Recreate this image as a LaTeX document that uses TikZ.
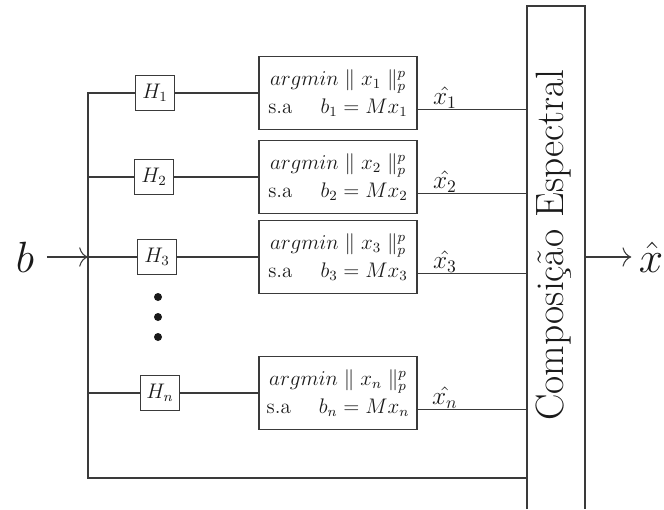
\documentclass[tikz,border=0pt]{standalone}
\usepackage{amsmath, amssymb}
\usepackage{fontspec}
\usepackage{xcolor}
\usetikzlibrary{arrows.meta}
\definecolor{wire}{HTML}{3A3A3A}
\definecolor{ink}{HTML}{1A1A1A}

\begin{document}
\begin{tikzpicture}[every node/.style={font=\large, text=ink},
  hbox/.style={draw=wire, minimum width=0.78cm, minimum height=0.7cm, inner sep=0pt},
  solver/.style={draw=wire, minimum width=3.16cm, minimum height=1.45cm,
    align=center, inner sep=0pt},
  arr/.style={-{To[length=5pt,width=11pt]}},
  draw=wire, line width=0.6pt]
  \useasboundingbox (0,0) rectangle (13.28,10.18);

  % input and bus
  \coordinate (busbot) at (1.76,0.62);
  \node[font=\fontsize{24}{29}\selectfont, inner sep=7pt] (b) at (0.5,5.04) {$b$};
  \draw[arr] (b.east) -- (b.east -| busbot);

  % spectral composition block
  \node[minimum width=1.16cm, minimum height=10.06cm, inner sep=0pt,
    outer sep=0pt] (comp) at (11.12,5.03) {};
  \draw (comp.south west) |- (comp.north east) -- (comp.south east);
  \node[rotate=90, font=\fontsize{22.5}{27}\selectfont] (comptxt) at (11.08,5.28)
    {Composição Espectral};
  \node[font=\fontsize{24}{29}\selectfont, inner sep=4pt] (xhat) at (13.02,5.04) {$\hat{x}$};
  \draw[arr] (xhat.west -| comp.east) -- (xhat.west);

  % filters
  \node[hbox] (h1) at (3.1,8.32) {$H_1$};
  \node[hbox] (h2) at (3.08,6.64) {$H_2$};
  \node[hbox] (h3) at (3.14,5.04) {$H_3$};
  \node[hbox] (hn) at (3.2,2.32) {$H_n$};
  \fill[ink] (3.16,4.24) circle (0.08);
  \fill[ink] (3.16,3.84) circle (0.08);
  \fill[ink] (3.16,3.44) circle (0.08);

  % solvers
  \node[solver] (s1) at (6.76,8.32)
    {$argmin \parallel x_1 \parallel_p^p$\\[2pt] s.a \quad $b_1 = Mx_1$};
  \node[solver] (s2) at (6.76,6.64)
    {$argmin \parallel x_2 \parallel_p^p$\\[2pt] s.a \quad $b_2 = Mx_2$};
  \node[solver] (s3) at (6.76,5.04)
    {$argmin \parallel x_3 \parallel_p^p$\\[2pt] s.a \quad $b_3 = Mx_3$};
  \node[solver] (sn) at (6.76,2.32)
    {$argmin \parallel x_n \parallel_p^p$\\[2pt] s.a \quad $b_n = Mx_n$};

  % wiring
  \draw (h1.west) -| (busbot) -- (busbot -| comp.west);
  \draw (h2.west -| busbot) -- (h2.west);
  \draw (h3.west -| busbot) -- (h3.west);
  \draw (hn.west -| busbot) -- (hn.west);
  \draw (h1) -- (s1);
  \draw (h2) -- (s2);
  \draw (h3) -- (s3);
  \draw (hn) -- (sn);

  % outputs
  \coordinate (o1) at ([yshift=0.4cm]s1.south east);
  \coordinate (o2) at ([yshift=0.4cm]s2.south east);
  \coordinate (o3) at ([yshift=0.4cm]s3.south east);
  \coordinate (on) at ([yshift=0.4cm]sn.south east);
  \draw (o1) -- (o1 -| comp.west) node[pos=0.25, above, inner sep=0.5pt, font=\Large] (l1) {$\hat{x_1}$};
  \draw (o2) -- (o2 -| comp.west) node[pos=0.25, above, inner sep=0.5pt, font=\Large] (l2) {$\hat{x_2}$};
  \draw (o3) -- (o3 -| comp.west) node[pos=0.25, above, inner sep=0.5pt, font=\Large] (l3) {$\hat{x_3}$};
  \draw (on) -- (on -| comp.west) node[pos=0.25, above, inner sep=0.5pt, font=\Large] (ln) {$\hat{x_n}$};
\end{tikzpicture}
\end{document}
